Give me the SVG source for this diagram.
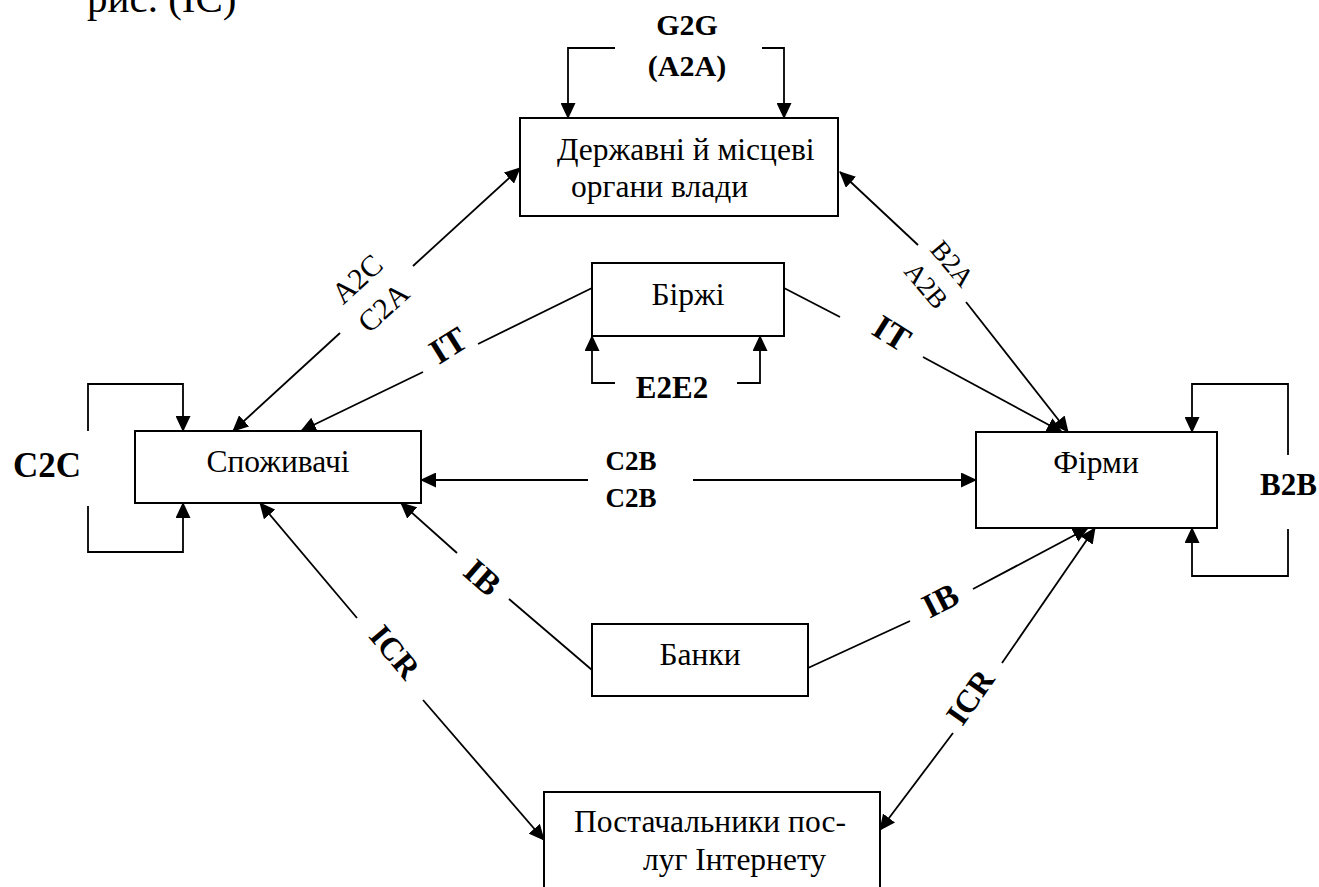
<svg xmlns="http://www.w3.org/2000/svg" width="1319" height="887" viewBox="0 0 1319 887">
<style>
.box{fill:#fff;stroke:#000;stroke-width:2}
.t{font-family:"Liberation Serif","Times New Roman",serif;font-size:31.5px;fill:#000}
.b{font-family:"Liberation Serif","Times New Roman",serif;font-weight:bold;fill:#000}
.c{fill:none;stroke:#000;stroke-width:1.8}
.a{marker-end:url(#ah)}
</style>
<defs>
<marker id="ah" markerUnits="userSpaceOnUse" markerWidth="16" markerHeight="15" refX="15" refY="7.5" orient="auto"><path d="M0,0 L16,7.5 L0,15 z" fill="#000"/></marker>
</defs>
<rect width="1319" height="887" fill="#fff"/>
<text class="t" x="87" y="12" style="font-size:41px">рис. (IC)</text>

<g id="connectors">
<path class="c a" d="M615,48 H568 V118"/>
<path class="c a" d="M762,48 H784 V118"/>
<path class="c a" d="M615,383 H592 V336"/>
<path class="c a" d="M737,383 H760 V336"/>
<path class="c a" d="M88,431 V384 H183 V431"/>
<path class="c a" d="M88,506 V552 H183 V503"/>
<path class="c a" d="M1288,455 V384 H1192 V432"/>
<path class="c a" d="M1288,529 V576 H1192 V528"/>
<path class="c a" d="M588,480 H421"/>
<path class="c a" d="M693,480 H976"/>
<path class="c a" d="M340,333 L233,431"/>
<path class="c a" d="M413,266 L520,168"/>
<path class="c" d="M592,288 L478,344"/>
<path class="c a" d="M423,372 L301,431"/>
<path class="c" d="M784,288 L840,317"/>
<path class="c a" d="M923,357 L1062,432"/>
<path class="c a" d="M918,245 L840,172"/>
<path class="c a" d="M966,302 L1068,432"/>
<path class="c a" d="M457,553 L401,503"/>
<path class="c" d="M509,599 L592,670"/>
<path class="c" d="M808,668 L910,621"/>
<path class="c a" d="M973,589 L1088,528"/>
<path class="c a" d="M357,618 L260,503"/>
<path class="c a" d="M423,700 L544,840"/>
<path class="c a" d="M953,733 L880,830"/>
<path class="c a" d="M1002,663 L1095,528"/>
</g>

<g id="labels">
<text class="b" x="687" y="35" text-anchor="middle" style="font-size:30px">G2G</text>
<text class="b" x="687" y="76" text-anchor="middle" style="font-size:30px">(A2A)</text>
<text class="b" x="672" y="398" text-anchor="middle" style="font-size:31px">E2E2</text>
<text class="b" x="13" y="477" style="font-size:35px">C2C</text>
<text class="b" x="1260" y="495" style="font-size:31px">B2B</text>
<text class="b" x="631" y="470" text-anchor="middle" style="font-size:27px">C2B</text>
<text class="b" x="631" y="507" text-anchor="middle" style="font-size:27px">C2B</text>
<g transform="translate(370,293) rotate(-42.5)">
<text class="t" x="0" y="-9" text-anchor="middle" style="font-size:30px">A2C</text>
<text class="t" x="0" y="30" text-anchor="middle" style="font-size:30px">C2A</text>
</g>
<g transform="translate(940,274) rotate(50)">
<text class="t" x="0" y="-7" text-anchor="middle" style="font-size:27px">B2A</text>
<text class="t" x="0" y="27" text-anchor="middle" style="font-size:27px">A2B</text>
</g>
<text class="b" transform="translate(448,345) rotate(-32)" y="12" text-anchor="middle" style="font-size:35px">IT</text>
<text class="b" transform="translate(892,333) rotate(32)" y="12" text-anchor="middle" style="font-size:35px">IT</text>
<text class="b" transform="translate(483,577) rotate(41)" y="12" text-anchor="middle" style="font-size:34px">IB</text>
<text class="b" transform="translate(940,600) rotate(-27)" y="12" text-anchor="middle" style="font-size:34px">IB</text>
<text class="b" transform="translate(395,652) rotate(50)" y="11" text-anchor="middle" style="font-size:32px">ICR</text>
<text class="b" transform="translate(970,697) rotate(-55)" y="11" text-anchor="middle" style="font-size:32px">ICR</text>
</g>

<g id="node-derzhavni">
<rect class="box" x="520" y="118" width="318" height="98"/>
<text class="t" x="557" y="160">Державні й місцеві</text>
<text class="t" x="571" y="197">органи влади</text>
</g>
<g id="node-birzhi">
<rect class="box" x="592" y="263" width="192" height="73"/>
<text class="t" x="688" y="305" text-anchor="middle">Біржі</text>
</g>
<g id="node-spozhyvachi">
<rect class="box" x="135" y="431" width="286" height="72"/>
<text class="t" x="278" y="472" text-anchor="middle">Споживачі</text>
</g>
<g id="node-firmy">
<rect class="box" x="976" y="432" width="241" height="96"/>
<text class="t" x="1096" y="473" text-anchor="middle">Фірми</text>
</g>
<g id="node-banky">
<rect class="box" x="592" y="624" width="216" height="72"/>
<text class="t" x="700" y="665" text-anchor="middle">Банки</text>
</g>
<g id="node-postachalnyky">
<rect class="box" x="544" y="792" width="336" height="110"/>
<text class="t" x="574" y="832">Постачальники пос-</text>
<text class="t" x="643" y="870">луг Інтернету</text>
</g>
</svg>
